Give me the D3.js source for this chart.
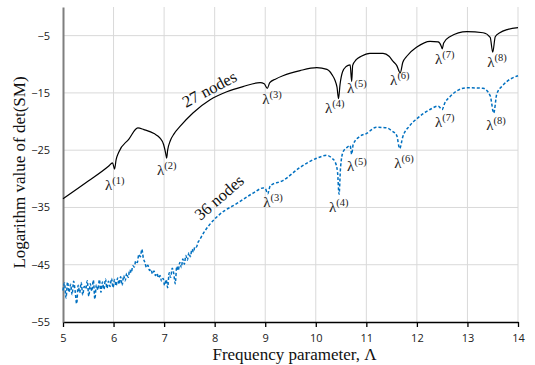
<!DOCTYPE html>
<html>
<head>
<meta charset="utf-8">
<script src="https://cdn.jsdelivr.net/npm/d3@7"></script>
<style>
  body { margin: 0; background: #fff; }
  svg { display: block; }
</style>
</head>
<body>
<div id="chart"></div>
<script>
// 27 nodes (solid black)
const black27 = [
  [5.0, -33.5], [5.5, -30.4], [5.9, -27.8], [5.98, -27.2], [6.02, -28.3], [6.05, -26.7],
  [6.1, -25.4], [6.3, -23.1], [6.48, -21.1], [6.6, -21.4], [6.8, -22.1], [6.92, -22.9],
  [6.99, -24.0], [7.03, -25.5], [7.05, -26.4], [7.07, -25.0], [7.12, -23.4], [7.2, -22.1],
  [7.31, -20.9], [7.57, -18.5], [7.91, -16.2], [8.24, -14.8], [8.56, -13.9], [8.9, -13.2],
  [8.98, -13.4], [9.04, -14.2], [9.09, -13.2], [9.2, -12.6], [9.35, -12.0], [9.69, -11.1],
  [10.02, -10.6], [10.22, -10.9], [10.32, -11.8], [10.38, -12.8], [10.42, -14.0], [10.45, -16.0],
  [10.48, -13.5], [10.53, -11.3], [10.6, -10.4], [10.68, -10.1], [10.71, -13.0], [10.73, -10.2],
  [10.8, -9.2], [10.9, -8.6], [11.07, -8.1], [11.33, -8.1], [11.45, -8.6], [11.53, -9.5],
  [11.6, -10.2], [11.67, -11.5], [11.72, -9.7], [11.8, -8.6], [12.0, -7.0], [12.26, -6.0],
  [12.42, -6.1], [12.48, -6.8], [12.5, -7.3], [12.53, -6.3], [12.65, -5.2], [12.99, -4.3],
  [13.31, -4.5], [13.45, -5.3], [13.5, -7.9], [13.55, -5.2], [13.64, -4.5], [13.8, -3.9],
  [14.0, -3.6]
];

// 36 nodes (dashed blue), noisy at low frequency
const blue36 = [
  [5.00, -49.5], [5.03, -48.2], [5.06, -50.8], [5.09, -48.0], [5.12, -49.8], [5.15, -48.4],
  [5.18, -50.2], [5.21, -47.9], [5.24, -49.6], [5.27, -51.8], [5.30, -48.6], [5.33, -49.9],
  [5.36, -48.1], [5.39, -50.3], [5.42, -48.8], [5.45, -49.2], [5.48, -47.8], [5.51, -50.5],
  [5.54, -48.3], [5.57, -49.6], [5.60, -47.7], [5.63, -51.0], [5.66, -48.5], [5.69, -49.4],
  [5.72, -47.6], [5.75, -49.8], [5.78, -48.0], [5.81, -49.3], [5.84, -47.5], [5.87, -49.1],
  [5.90, -47.9], [5.93, -48.8], [5.96, -47.4], [5.99, -49.0], [6.02, -47.6], [6.05, -48.7],
  [6.08, -47.3], [6.11, -48.4], [6.14, -47.1], [6.17, -48.6], [6.20, -46.9], [6.23, -47.8],
  [6.26, -46.5], [6.29, -47.2], [6.32, -45.9], [6.35, -46.4], [6.38, -45.2], [6.41, -45.4],
  [6.44, -44.3], [6.47, -44.6], [6.50, -43.2], [6.53, -43.6], [6.56, -42.3], [6.59, -43.9],
  [6.62, -44.6], [6.65, -45.5], [6.68, -45.1], [6.71, -46.0], [6.74, -45.8], [6.77, -46.6],
  [6.80, -46.1], [6.83, -46.9], [6.86, -46.5], [6.89, -47.3], [6.92, -46.9], [6.95, -47.9],
  [6.98, -47.4], [7.01, -48.6], [7.04, -47.6], [7.07, -49.0], [7.10, -46.4], [7.13, -47.2],
  [7.16, -45.6], [7.19, -46.5], [7.22, -48.3], [7.25, -45.3], [7.28, -46.0], [7.31, -44.6],
  [7.34, -45.5], [7.37, -44.0], [7.40, -44.9], [7.43, -43.4], [7.46, -44.2], [7.49, -42.9],
  [7.52, -43.6], [7.55, -42.3], [7.58, -42.8], [7.61, -41.8], [7.64, -41.9], [7.67, -41.1],
  [7.70, -40.7], [7.77, -39.6], [7.9, -38.0], [8.1, -36.2], [8.44, -34.3], [8.76, -32.5],
  [8.96, -31.6], [9.0, -31.7], [9.05, -32.6], [9.1, -31.2], [9.35, -30.3], [9.69, -28.0],
  [10.02, -26.4], [10.22, -25.9], [10.32, -26.4], [10.38, -27.0], [10.43, -28.8], [10.46, -32.7],
  [10.49, -28.0], [10.54, -25.3], [10.62, -24.5], [10.68, -24.2], [10.71, -25.7], [10.74, -24.0],
  [10.87, -22.6], [11.0, -22.1], [11.2, -21.0], [11.4, -21.1], [11.5, -21.6], [11.6, -22.4],
  [11.66, -24.7], [11.72, -22.7], [11.85, -20.8], [12.0, -19.5], [12.26, -17.9], [12.42, -17.3],
  [12.5, -17.9], [12.55, -16.8], [12.65, -15.7], [12.99, -14.1], [13.31, -14.2], [13.45, -15.5],
  [13.52, -18.5], [13.58, -15.2], [13.7, -13.7], [14.0, -12.0]
];

const xTicks = [5, 6, 7, 8, 9, 10, 11, 12, 13, 14];
const yTicks = [-55, -45, -35, -25, -15, -5];

// eigenvalue labels: order, x, y (start of label, data units)
const labels27 = [
  [1, 5.83, -31.9], [2, 6.86, -29.3], [3, 8.94, -16.9], [4, 10.18, -18.5],
  [5, 10.62, -15.1], [6, 11.47, -13.7], [7, 12.36, -9.9], [8, 13.39, -10.4]
];
const labels36 = [
  [3, 8.96, -34.9], [4, 10.26, -35.8], [5, 10.62, -28.6], [6, 11.55, -28.1],
  [7, 12.36, -20.9], [8, 13.37, -21.4]
];

const W = 535, H = 365;
const margin = { top: 7, right: 17, bottom: 43, left: 63 };
const width = W - margin.left - margin.right;
const height = H - margin.top - margin.bottom;

const svg = d3.select('#chart').append('svg')
  .attr('width', W)
  .attr('height', H);

const g = svg.append('g')
  .attr('transform', `translate(${margin.left},${margin.top})`);

const x = d3.scaleLinear().domain([5, 14]).range([0, width]);
const y = d3.scaleLinear().domain([-55, 0]).range([height, 0]);

// grid
g.append('g').selectAll('line')
  .data(xTicks.slice(1))
  .enter().append('line')
  .attr('x1', d => x(d)).attr('x2', d => x(d))
  .attr('y1', 0).attr('y2', height)
  .attr('stroke', '#d9d9d9').attr('stroke-width', 1);

g.append('g').selectAll('line')
  .data(yTicks.slice(1))
  .enter().append('line')
  .attr('x1', 0).attr('x2', width)
  .attr('y1', d => y(d)).attr('y2', d => y(d))
  .attr('stroke', '#d9d9d9').attr('stroke-width', 1);

// axes
const xAxis = g.append('g')
  .attr('transform', `translate(0,${height})`)
  .call(d3.axisBottom(x).tickValues(xTicks).tickSize(5).tickSizeOuter(0));
xAxis.select('.domain').attr('stroke', '#000').attr('stroke-width', 1.3);
xAxis.selectAll('.tick line').attr('stroke', '#000').attr('stroke-width', 1.3);
xAxis.selectAll('text')
  .attr('dy', '1.05em')
  .style('font-family', '"Open Sans", sans-serif')
  .style('font-size', '11px')
  .attr('fill', '#222');

const yAxis = g.append('g')
  .call(d3.axisLeft(y).tickValues(yTicks).tickSize(0).tickPadding(13));
yAxis.select('.domain').attr('stroke', '#7f7f7f').attr('stroke-width', 2);
yAxis.selectAll('text')
  .style('font-family', '"Open Sans", sans-serif')
  .style('font-size', '11px')
  .attr('fill', '#222');

// lines
const line = d3.line()
  .x(d => x(d[0]))
  .y(d => y(d[1]))
  .curve(d3.curveMonotoneX);

g.append('path')
  .datum(blue36)
  .attr('fill', 'none')
  .attr('stroke', '#0070c0')
  .attr('stroke-width', 1.5)
  .attr('stroke-dasharray', '3,2')
  .attr('d', line);

g.append('path')
  .datum(black27)
  .attr('fill', 'none')
  .attr('stroke', '#000')
  .attr('stroke-width', 1.2)
  .attr('d', line);

// lambda labels
function addLabels(data) {
  const t = g.append('g').selectAll('text')
    .data(data)
    .enter().append('text')
    .attr('x', d => x(d[1]))
    .attr('y', d => y(d[2]))
    .style('font-family', '"Liberation Serif", serif')
    .style('font-size', '15px')
    .attr('fill', '#222');
  t.append('tspan').text('λ');
  t.append('tspan')
    .attr('dy', -6)
    .style('font-size', '10.5px')
    .text(d => `(${d[0]})`);
}
addLabels(labels27);
addLabels(labels36);

// series labels
g.append('text')
  .attr('transform', `translate(${x(7.95)},${y(-15.2)}) rotate(-28)`)
  .attr('text-anchor', 'middle')
  .style('font-family', '"Liberation Serif", serif')
  .style('font-size', '16.5px')
  .attr('fill', '#111')
  .text('27 nodes');

g.append('text')
  .attr('transform', `translate(${x(8.16)},${y(-34.0)}) rotate(-41)`)
  .attr('text-anchor', 'middle')
  .style('font-family', '"Liberation Serif", serif')
  .style('font-size', '16.5px')
  .attr('fill', '#111')
  .text('36 nodes');

// axis titles
svg.append('text')
  .attr('transform', `translate(25,${margin.top + height / 2 + 8}) rotate(-90)`)
  .attr('text-anchor', 'middle')
  .style('font-family', '"Liberation Serif", serif')
  .style('font-size', '17px')
  .attr('fill', '#111')
  .text('Logarithm value of  det(SM)');

svg.append('text')
  .attr('x', margin.left + width / 2 + 4)
  .attr('y', 360)
  .attr('text-anchor', 'middle')
  .style('font-family', '"Liberation Serif", serif')
  .style('font-size', '17px')
  .attr('fill', '#111')
  .text('Frequency parameter, Λ');
</script>
</body>
</html>
